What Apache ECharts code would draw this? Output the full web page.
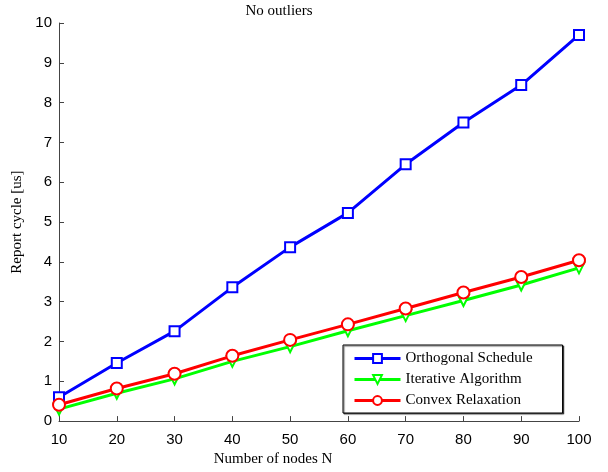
<!DOCTYPE html>
<html>
<head>
<meta charset="utf-8">
<script src="https://cdn.jsdelivr.net/npm/echarts@6/dist/echarts.min.js"></script>
<style>
  html, body { margin: 0; padding: 0; background: #fff; }
  #chart { width: 608px; height: 472px; }
</style>
</head>
<body>
<div id="chart"></div>
<script>
// Number of nodes N
const nodes = [10, 20, 30, 40, 50, 60, 70, 80, 90, 100];

// Report cycle [us] for each scheduling method
const orthogonalSchedule = [0.60, 1.46, 2.26, 3.36, 4.37, 5.23, 6.45, 7.50, 8.44, 9.70];
const iterativeAlgorithm = [0.30, 0.70, 1.06, 1.50, 1.87, 2.27, 2.65, 3.03, 3.42, 3.85];
const convexRelaxation   = [0.41, 0.82, 1.19, 1.64, 2.04, 2.43, 2.83, 3.23, 3.62, 4.04];

const seriesNames = ['Orthogonal Schedule', 'Iterative Algorithm', 'Convex Relaxation'];

const serif = '"Liberation Serif", "DejaVu Serif", serif';
const sans = '"Liberation Sans", Arial, sans-serif';

const pairs = ys => nodes.map((n, i) => [n, ys[i]]);

const chart = echarts.init(document.getElementById('chart'), null, { renderer: 'canvas' });

chart.setOption({
  animation: false,
  backgroundColor: '#ffffff',
  title: {
    text: 'No outliers',
    left: 274,
    top: -1,
    textAlign: 'center',
    textStyle: { fontFamily: serif, fontSize: 15, fontWeight: 'normal', color: '#000' }
  },
  grid: { left: 59, right: 29, top: 23, bottom: 45, containLabel: false },
  xAxis: {
    type: 'value',
    min: 10, max: 100, interval: 10,
    name: 'Number of nodes N',
    nameLocation: 'middle',
    nameGap: 30,
    nameTextStyle: { fontFamily: serif, fontSize: 15, color: '#000', padding: [0, 92, 0, 0] },
    axisLine: { show: true, lineStyle: { color: '#444', width: 1 } },
    axisTick: { show: true, inside: true, length: 5, lineStyle: { color: '#444' } },
    axisLabel: { fontFamily: sans, fontSize: 15, color: '#000', margin: 11 },
    splitLine: { show: false }
  },
  yAxis: {
    type: 'value',
    min: 0, max: 10, interval: 1,
    name: 'Report cycle [us]',
    nameLocation: 'middle',
    nameGap: 32,
    nameTextStyle: { fontFamily: serif, fontSize: 15, color: '#000' },
    axisLine: { show: true, lineStyle: { color: '#444', width: 1 } },
    axisTick: { show: true, inside: true, length: 5, lineStyle: { color: '#444' } },
    axisLabel: { fontFamily: sans, fontSize: 15, color: '#000', margin: 7 },
    splitLine: { show: false }
  },
  legend: {
    data: seriesNames,
    orient: 'vertical',
    left: 343,
    top: 345,
    padding: [6, 30, 5, 10],
    itemWidth: 46,
    itemHeight: 11,
    itemGap: 6,
    backgroundColor: '#ffffff',
    borderColor: '#000',
    borderWidth: 1,
    shadowColor: 'rgba(0,0,0,0.6)',
    shadowOffsetX: 1,
    shadowOffsetY: 1,
    shadowBlur: 1,
    lineStyle: { width: 3 },
    textStyle: { fontFamily: serif, fontSize: 15, color: '#000', padding: [0, 0, 0, 0] }
  },
  series: [
    {
      name: seriesNames[0],
      type: 'line',
      data: pairs(orthogonalSchedule),
      color: '#0000ff',
      lineStyle: { width: 3, color: '#0000ff' },
      symbol: 'emptyRect',
      symbolSize: 10,
      itemStyle: { color: '#0000ff', borderColor: '#0000ff', borderWidth: 3 },
      z: 3
    },
    {
      name: seriesNames[1],
      type: 'line',
      data: pairs(iterativeAlgorithm),
      color: '#00ff00',
      lineStyle: { width: 3, color: '#00ff00' },
      symbol: 'emptyTriangle',
      symbolRotate: 180,
      symbolSize: 11,
      itemStyle: { color: '#00ff00', borderColor: '#00ff00', borderWidth: 3 },
      z: 2
    },
    {
      name: seriesNames[2],
      type: 'line',
      data: pairs(convexRelaxation),
      color: '#ff0000',
      lineStyle: { width: 3, color: '#ff0000' },
      symbol: 'emptyCircle',
      symbolSize: 12,
      itemStyle: { color: '#ff0000', borderColor: '#ff0000', borderWidth: 3 },
      z: 4
    }
  ]
});
</script>
</body>
</html>
